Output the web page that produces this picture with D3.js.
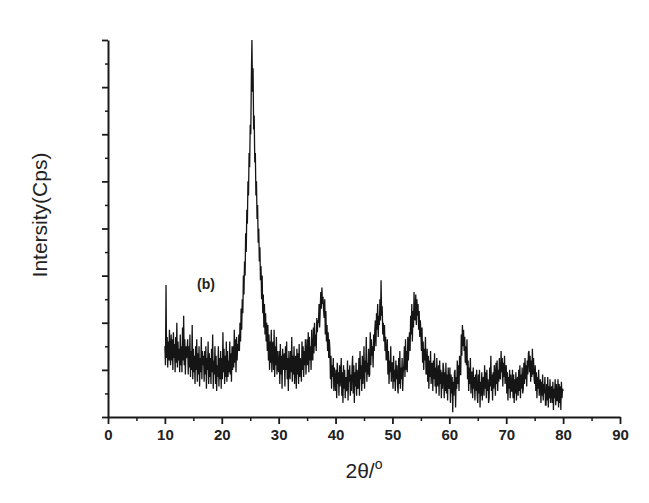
<!DOCTYPE html>
<html><head><meta charset="utf-8">
<script src="https://cdn.jsdelivr.net/npm/d3@7"></script>
<style>body{margin:0;background:#fff}svg{display:block}text{font-family:"Liberation Sans",Arial,sans-serif}</style>
</head><body>
<svg id="c" width="649" height="503"></svg>
<script>
// 2θ start, step
const xStart = 10, xStep = 0.1;
// intensities (arb. units, 0-800) per 0.1°, each row = one degree (10.0 ... 79.9), then 80.0
const intensity = [
 150,110,280,125,170,105,160,120,185,130,
 110,175,120,165,100,180,125,155,95,170,
 115,200,105,160,120,145,95,175,110,150,
 95,190,120,215,110,165,90,150,125,140,
 165,90,150,105,175,85,140,100,195,80,
 145,95,130,70,150,100,165,75,135,90,
 150,65,125,95,170,80,140,110,130,75,
 140,90,150,60,125,100,160,70,135,85,
 125,70,145,95,175,60,120,90,150,70,
 130,55,110,85,150,65,125,80,140,60,
 125,80,180,95,145,70,130,85,160,75,
 140,85,120,95,160,90,135,75,150,100,
 150,105,185,115,165,95,170,120,155,140,
 175,140,200,160,230,185,250,220,300,260,
 330,300,390,350,440,410,500,470,560,530,
 620,600,720,800,690,740,610,640,540,560,
 470,500,420,450,370,400,330,360,290,320,
 250,300,220,260,190,240,175,220,160,200,
 140,195,120,175,100,160,115,185,95,150,
 160,100,185,85,150,110,170,90,140,105,
 95,140,70,155,90,130,60,145,100,125,
 135,65,150,100,160,80,125,55,140,95,
 80,140,95,170,75,130,90,150,70,120,
 130,60,145,90,135,70,155,85,125,100,
 75,160,100,150,85,140,110,165,90,130,
 165,110,180,95,170,120,150,100,185,125,
 120,190,135,200,150,175,140,210,180,205,
 200,240,190,225,265,230,275,240,255,225,
 210,250,175,225,160,195,140,180,125,165,
 145,80,130,60,110,85,125,55,105,75,
 55,100,40,115,70,95,45,110,65,90,
 125,45,95,30,110,60,100,40,85,55,
 60,120,35,100,75,110,45,90,55,105,
 130,50,110,30,95,65,115,45,100,60,
 65,125,45,140,80,110,55,130,70,100,
 150,60,120,95,170,75,115,90,145,85,
 90,180,110,165,130,150,105,175,140,185,
 205,150,220,185,240,170,215,195,250,205,
 290,215,235,175,200,160,195,140,170,120,
 130,165,90,140,70,120,95,150,75,115,
 115,60,130,75,100,55,120,80,110,65,
 50,125,70,140,60,105,80,125,55,95,
 110,150,85,165,100,140,95,170,120,155,
 180,140,215,175,240,160,225,190,265,210,
 205,260,195,250,215,240,185,225,170,205,
 180,140,190,115,160,100,145,120,170,90,
 95,145,75,130,60,120,85,140,70,110,
 115,55,120,80,135,65,105,50,125,75,
 65,110,45,120,70,100,40,95,60,115,
 100,40,95,55,115,50,90,35,105,65,
 60,105,30,90,50,85,10,75,45,95,
 100,20,85,60,120,70,110,55,130,90,
 90,175,130,195,150,185,140,170,115,150,
 110,165,80,120,55,105,70,125,50,95,
 95,40,105,60,85,35,90,55,100,45,
 30,90,50,100,20,75,45,95,35,80,
 85,45,110,60,95,40,100,55,80,30,
 40,105,65,130,55,90,35,95,60,110,
 90,45,115,70,120,55,100,75,125,85,
 80,140,95,125,65,115,85,130,70,100,
 110,50,95,35,85,60,100,40,90,55,
 55,100,40,90,30,80,50,95,35,75,
 85,45,100,55,110,40,90,60,105,50,
 60,115,70,125,80,110,65,120,90,135,
 140,95,130,75,120,85,145,90,125,80,
 70,110,55,95,40,85,60,100,45,75,
 80,30,75,45,90,35,70,50,85,25,
 25,70,35,85,20,65,40,80,30,60,
 65,30,75,15,60,40,80,25,70,35,
 35,80,20,70,30,65,15,75,40,60,
 55
];
const xTicks = [0,10,20,30,40,50,60,70,80,90];
const yMajor = [0,100,200,300,400,500,600,700,800];

const data = intensity.map((v,i)=>({x: xStart + i*xStep, y: v}));
const svg = d3.select("#c");
const L=108, R=620, T=40, B=417;
const x = d3.scaleLinear().domain([0,90]).range([L,R]);
const y = d3.scaleLinear().domain([0,800]).range([B,T]);
const axisColor = "#1a1a1a";

// x minor ticks
const xMinor = d3.range(5,90,10);
svg.append("g").attr("transform",`translate(0,${B})`)
  .call(d3.axisBottom(x).tickValues(xMinor).tickSize(4).tickFormat(""))
  .call(g=>{g.select(".domain").remove(); g.selectAll("line").attr("stroke",axisColor).attr("stroke-width",1.5);});
// x major
svg.append("g").attr("transform",`translate(0,${B})`)
  .call(d3.axisBottom(x).tickValues(xTicks).tickSize(7).tickSizeOuter(0).tickPadding(5).tickFormat(d3.format("d")))
  .call(g=>{g.select(".domain").attr("stroke",axisColor).attr("stroke-width",2);
    g.selectAll("line").attr("stroke",axisColor).attr("stroke-width",1.8);
    g.selectAll("text").attr("font-size",15).attr("font-weight","bold").attr("fill","#222");});
// y minor
const yMinor = d3.range(50,800,100);
svg.append("g").attr("transform",`translate(${L},0)`)
  .call(d3.axisLeft(y).tickValues(yMinor).tickSize(3).tickFormat(""))
  .call(g=>{g.select(".domain").remove(); g.selectAll("line").attr("stroke",axisColor).attr("stroke-width",1.5);});
// y major
svg.append("g").attr("transform",`translate(${L},0)`)
  .call(d3.axisLeft(y).tickValues(yMajor).tickSize(6).tickSizeOuter(0).tickFormat(""))
  .call(g=>{g.select(".domain").attr("stroke",axisColor).attr("stroke-width",2);
    g.selectAll("line").attr("stroke",axisColor).attr("stroke-width",1.8);});

// data line
const line = d3.line().x(d=>x(d.x)).y(d=>y(d.y));
svg.append("path").datum(data).attr("d",line).attr("fill","none")
  .attr("stroke","#151515").attr("stroke-width",1.3).attr("stroke-linejoin","miter");

// labels
const xl = svg.append("text").attr("x",(L+R)/2).attr("y",478).attr("text-anchor","middle")
  .attr("font-size",21).attr("fill","#222");
xl.append("tspan").text("2θ/");
xl.append("tspan").text("o").attr("font-size",14).attr("dy",-9);

svg.append("text").attr("transform","translate(47,215) rotate(-90)").attr("text-anchor","middle")
  .attr("font-size",21).attr("fill","#222").text("Intersity(Cps)");

svg.append("text").attr("x",197).attr("y",289).attr("font-size",14).attr("font-weight","bold")
  .attr("fill","#222").text("(b)");
</script>
</body></html>
